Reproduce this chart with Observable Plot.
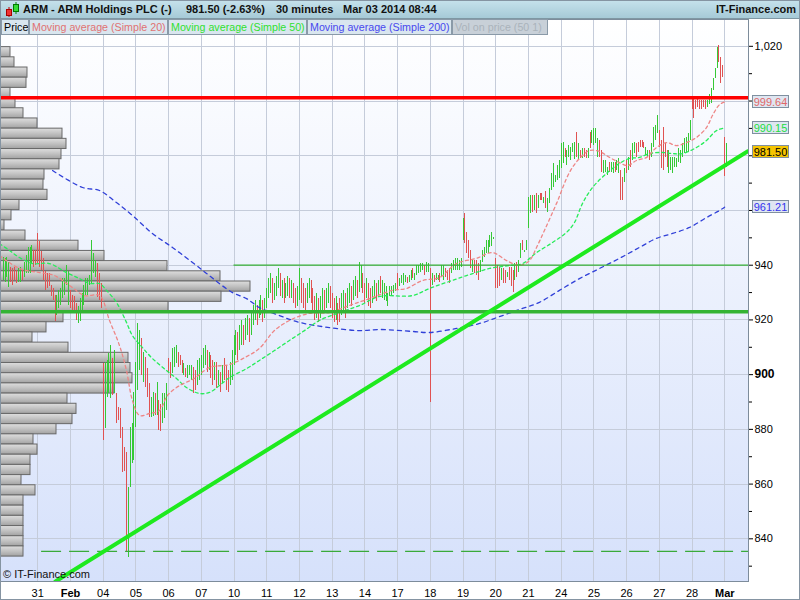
<!DOCTYPE html>
<html>
<head>
<meta charset="utf-8">
<script src="https://cdn.jsdelivr.net/npm/d3@7"></script>
<script src="https://cdn.jsdelivr.net/npm/@observablehq/plot@0.6"></script>
<style>
  html,body{margin:0;padding:0;background:#fff;}
  #wrap{position:relative;width:800px;height:600px;overflow:hidden;font-family:Arial,"Liberation Sans",sans-serif;}
  #chart{position:absolute;left:0;top:0;}
  #hdr{position:absolute;left:0;top:0;width:800px;height:19px;background:linear-gradient(#c6e2ec,#a6cad7);border-bottom:1px solid #7f97a3;box-sizing:border-box;font-weight:bold;font-size:11px;color:#111;}
  .h{position:absolute;top:3px;white-space:nowrap;}
  .lg{position:absolute;top:19px;height:16px;line-height:15px;font-size:10.7px;padding-left:2px;background:#d9e6ef;border:1px solid #8a9aa8;white-space:nowrap;box-sizing:border-box;overflow:hidden;}
  .vb{position:absolute;left:752px;width:37px;height:13px;line-height:12px;font-size:11px;text-align:center;border:1px solid #8090a0;background:#dfe7f2;box-sizing:border-box;}
  #copy{position:absolute;left:3px;top:568px;font-size:11px;color:#111;}
  #border{position:absolute;left:0;top:0;width:800px;height:600px;border:1px solid #8594a2;box-sizing:border-box;pointer-events:none;}
</style>
</head>
<body>
<div id="wrap">
  <div id="chart"></div>
  <div id="hdr">
    <svg style="position:absolute;left:3px;top:1px" width="18" height="17">
      <line x1="6" y1="6" x2="6" y2="16" stroke="#b00" />
      <rect x="3.5" y="8.5" width="5" height="6" fill="#e33" stroke="#a00"/>
      <line x1="13" y1="1" x2="13" y2="13" stroke="#080" />
      <rect x="10.5" y="3.5" width="5" height="7" fill="#3d3" stroke="#070"/>
    </svg>
    <span class="h" style="left:23px">ARM - ARM Holdings PLC (-)</span>
    <span class="h" style="left:186px">981.50 (-2.63%)</span>
    <span class="h" style="left:276px">30 minutes</span>
    <span class="h" style="left:343px">Mar 03 2014 08:44</span>
    <span class="h" style="right:4px">IT-Finance.com</span>
  </div>
  <div class="lg" style="left:1px;width:28px;color:#000;">Price</div>
  <div class="lg" style="left:29px;width:139px;color:#e07272;">Moving average (Simple 20)</div>
  <div class="lg" style="left:168px;width:139px;color:#30e030;">Moving average (Simple 50)</div>
  <div class="lg" style="left:307px;width:145px;color:#4848ee;">Moving average (Simple 200)</div>
  <div class="lg" style="left:452px;width:96px;color:#aab3bb;background:#c8d0d8;">Vol on price (50 1)</div>
  <div id="copy">© IT-Finance.com</div>
  <div id="vboxes"></div>
  <div id="border"></div>
</div>
<script>
// ---------- DATA ----------
const dayLabels = ["31","Feb","04","05","06","07","10","11","12","13","14","17","18","19","20","21","24","25","26","27","28","Mar"];
const boldLabels = ["Feb","Mar"];
const firstDayBar = 18;      // first bar of Jan 31
const barsPerDay = 17;       // 30-minute bars per session

// 30-minute bars: highs, lows, direction (G up / R down), one line per session
const highs = [
 942.8,942.4,942.8,941.0,939.2,938.8,939.2,938.1,938.8,939.2,938.1,941.0,943.5,946.5,946.5,947.2,945.4,945.4,
 951.6,948.7,945.1,942.5,937.8,937.0,937.0,932.6,931.5,928.9,928.9,930.8,931.5,935.1,935.1,939.9,937.8,
 930.8,928.9,928.6,926.0,924.9,927.8,929.7,932.6,935.1,935.1,936.2,949.0,944.3,941.7,940.6,937.0,933.3,
 904.1,904.4,905.2,907.7,910.6,905.9,908.8,893.1,888.0,887.7,880.7,873.4,871.5,858.7,880.7,882.1,893.5,
 904.4,918.7,916.1,913.2,908.0,906.3,902.2,896.8,891.6,893.5,893.1,897.1,890.6,889.1,893.1,893.1,896.8,
 905.9,904.4,909.5,909.9,910.6,908.1,907.0,905.2,904.1,902.2,903.3,903.3,903.3,902.5,901.4,905.2,905.9,
 907.0,909.5,910.6,908.8,908.1,907.0,905.2,904.4,904.4,901.4,900.7,903.3,905.9,903.3,901.4,904.4,908.8,
 914.3,916.1,915.4,918.0,919.8,918.0,920.5,921.6,920.5,922.7,925.3,927.1,925.3,927.1,928.9,927.1,927.8,
 931.5,935.1,937.0,935.1,933.3,935.9,938.8,937.0,934.4,935.1,933.3,935.9,935.1,934.4,933.3,931.5,932.2,
 938.8,935.1,933.3,931.5,933.3,935.1,934.4,931.5,928.6,929.7,927.8,928.6,931.5,930.8,931.5,933.3,932.2,
 929.7,927.8,928.6,926.0,927.8,929.7,930.8,929.7,931.5,933.3,932.2,934.4,935.9,934.4,941.0,940.0,937.0,
 933.3,935.1,933.3,931.5,932.2,934.4,933.3,934.4,935.9,934.4,933.3,932.2,929.7,932.2,932.2,932.6,933.3,
 937.0,935.1,936.2,937.0,936.2,935.5,936.2,938.1,938.8,937.0,939.9,939.9,940.6,940.6,939.9,941.0,940.6,
 938.7,937.0,936.2,937.0,936.2,937.0,939.9,939.9,938.8,938.1,938.8,940.6,941.7,942.5,942.5,941.7,942.5,
 957.0,958.9,951.9,949.0,945.4,941.7,941.7,941.7,940.6,941.7,945.4,946.5,949.0,949.0,950.9,951.9,950.1,
 942.5,939.9,939.2,938.8,938.8,938.1,937.4,939.2,939.2,938.1,940.6,941.0,941.7,947.9,949.0,945.4,949.0,
 964.7,965.4,965.4,965.4,966.2,965.4,966.2,966.2,964.7,967.0,964.4,968.1,973.6,977.3,972.9,976.5,978.3,
 984.4,984.8,982.6,981.9,983.7,983.0,984.4,984.8,988.5,984.4,981.9,982.6,982.6,981.9,982.6,988.5,989.2,
 989.9,989.9,986.3,985.6,981.9,978.3,978.3,975.7,977.6,977.6,977.6,977.6,978.3,979.0,974.6,972.1,975.4,
 978.3,979.4,981.9,984.4,984.8,984.4,984.8,985.6,985.6,984.8,983.0,981.9,981.9,984.4,990.3,991.0,994.7,
 989.2,985.6,990.3,984.4,981.9,981.9,979.4,979.4,979.4,979.0,982.6,981.9,984.4,986.3,986.7,988.1,992.9,
 1000.5,1000.5,1000.1,1000.5,1000.1,1000.1,1000.1,1000.1,1000.1,1002.3,1004.5,1008.2,1011.9,1019.6,1020.3,1015.9,1013.0,
 986.7,984.5
];
const lows = [
 934.4,933.7,935.5,931.9,933.7,932.6,934.4,933.3,933.7,933.7,934.4,935.5,937.0,937.0,937.0,940.6,939.2,939.9,
 940.6,939.2,938.1,934.4,930.8,931.5,932.2,928.6,927.1,919.4,921.6,924.2,925.3,927.8,928.9,932.6,925.3,
 924.2,923.1,923.1,919.8,918.7,919.4,923.4,925.3,928.9,928.9,932.6,933.3,937.0,935.5,928.2,927.1,924.2,
 875.9,880.3,891.6,893.1,891.3,892.4,893.1,882.1,883.2,876.6,864.2,864.5,835.0,833.3,858.7,867.5,868.6,
 880.7,894.2,901.5,899.7,897.1,895.3,891.6,884.3,884.3,884.7,885.1,885.1,879.5,879.1,882.1,884.0,886.9,
 900.4,898.6,900.4,902.5,904.1,902.5,903.3,900.4,899.7,899.0,898.6,899.7,897.8,893.1,894.2,896.0,897.9,
 899.7,902.2,903.3,900.8,901.5,898.6,896.0,897.9,895.0,896.0,893.5,896.8,897.9,894.2,893.5,896.0,897.9,
 903.3,907.0,905.2,908.8,910.6,910.6,912.5,914.3,911.7,914.3,918.0,919.8,918.0,920.5,921.6,919.0,920.5,
 924.2,927.8,929.7,926.0,927.1,928.6,931.5,928.6,927.8,926.0,927.8,928.6,927.8,927.8,926.0,924.2,925.0,
 927.1,926.0,924.2,923.4,926.0,927.8,926.0,922.3,919.8,920.5,919.0,920.5,923.4,922.3,924.2,926.0,924.2,
 920.5,919.0,919.8,918.0,919.0,921.6,923.4,920.5,924.2,926.0,925.0,927.1,928.6,927.8,930.0,931.5,929.7,
 926.0,927.8,925.0,924.2,926.0,927.8,926.7,928.6,929.7,927.8,927.1,926.7,925.0,928.6,928.9,929.7,930.4,
 930.8,932.2,933.3,932.6,933.7,933.3,933.7,934.4,935.1,934.4,936.2,937.0,937.4,938.1,936.2,937.4,937.4,
 889.8,932.6,933.7,934.4,934.4,933.7,935.5,934.4,935.5,934.4,933.3,937.0,938.1,938.1,938.1,938.1,939.2,
 949.0,947.9,944.3,942.5,938.8,937.4,937.0,936.2,934.4,937.4,941.0,942.8,944.3,944.3,946.5,946.9,949.4,
 931.5,931.5,932.2,934.4,933.3,933.3,935.5,934.4,932.2,930.0,934.4,935.5,937.4,942.5,945.4,944.7,945.4,
 953.4,958.9,959.3,960.0,958.9,960.7,963.6,963.6,962.5,960.8,959.3,962.6,967.3,968.3,970.4,971.0,971.7,
 975.3,977.3,979.3,976.5,979.3,978.3,981.2,978.7,979.3,978.3,979.0,979.0,979.3,979.0,979.0,982.6,984.4,
 983.7,984.4,979.3,979.3,973.9,973.6,973.9,972.8,973.9,973.9,973.6,973.9,974.6,973.6,963.6,963.6,970.3,
 973.6,974.6,975.7,978.3,980.8,979.3,981.2,983.0,983.0,982.6,980.1,979.3,978.3,979.3,983.0,985.6,988.1,
 983.0,975.3,974.6,979.3,975.7,973.6,974.6,973.6,975.7,975.7,977.5,977.2,979.3,980.8,980.8,981.2,985.6,
 996.8,993.8,996.8,997.5,996.8,996.8,997.5,996.8,997.5,998.6,999.0,1003.8,1008.2,1011.9,1014.1,1006.4,1008.6,
 972.4,975.7
];
const dirs = (
 "GGGGRRRRGGRGGGGGRR" + "RRRRRRRRRRGGGGGGG" + "RRRRGGGGGGGGGGRRR" + "RGGGGRGRRRRRRGGGG" +
 "GGGRGRRRGGRGRRGGG" + "RRGGGRRRGRGGGRRGG" + "GGGRGRRGRGRGRRRGG" + "GGRGGRGGRGGGRGGRG" +
 "GGGRGGGRGRGGRGRRG" + "GRRRGGRRRGRGGRGGR" + "RRGRRGGRGGRGGRGGR" + "RGRRGGRGRGGGGGGGG" +
 "RGGGGRGGRGGGGGRGG" + "RGRGGRGGRRRGGGGGG" + "GRRRRGRRRGGGGGGGG" + "RRRGRRGRRRGRGGRGG" +
 "GGRGRGRRGRGGGGGGG" + "GGRGGGGGRGRGRRGRG" + "GGGRRGGGRGGRGGRRG" + "RGRGGRRRRRGGRGGGG" +
 "RRRRRGGGGGGGGGGGG" + "RRRRRRRRGGGGGGRRR" + "RG").split("");

// Moving averages: bar position and price
const ma20I = [-1.9,8.5,18.9,26.7,34.5,42.3,50.1,55.3,60.5,64.1,67.2,70.9,76.0,81.3,85.4,91.7,99.4,107.2,117.6,126.5,133.2,141.0,148.8,159.2,169.6,180.0,190.4,202.3,209.6,217.9,226.8,235.6,246.0,254.3,261.6,268.3,273.5,277.2,281.3,287.6,294.3,299.5,304.7,309.9,315.1,320.3,324.5,329.2,334.4,339.5,344.7,349.9,355.1,360.3,365.5,368.6,372.3,374.9];
const ma20V = [943.5,938.8,937.3,936.2,932.6,928.9,928.9,919.8,910.6,901.5,890.6,885.1,885.8,886.9,892.4,896.0,898.6,902.6,903.7,906.6,909.6,916.1,919.8,922.4,922.7,925.3,927.8,930.8,931.5,934.4,935.5,940.6,942.5,944.6,941.7,939.9,941.7,946.5,952.7,962.6,973.9,979.0,981.9,981.6,979.4,977.5,976.4,978.3,979.4,983.0,984.8,983.7,984.8,986.7,990.3,994.7,998.7,999.64];
const ma50I = [-1.9,3.3,8.5,15.3,24.1,32.9,39.7,44.9,50.1,53.7,58.9,64.1,67.2,72.4,77.6,84.9,90.1,95.3,102.1,107.2,112.4,117.6,126.5,133.2,141.0,148.8,156.6,164.4,174.8,185.3,195.7,212.7,221.6,230.4,240.8,252.8,263.1,269.9,277.2,285.5,292.8,296.9,301.1,306.3,313.5,320.3,325.5,330.7,335.9,342.7,347.9,353.1,360.3,365.5,370.7,374.9];
const ma50V = [947.9,945.4,942.8,940.6,940.6,937.3,935.1,933.3,933.3,930.8,926.4,919.1,914.3,909.9,905.9,901.5,898.6,895.3,893.1,893.5,896.0,898.9,902.2,905.2,908.8,912.5,916.1,919.8,922.7,925.3,928.6,928.9,931.5,933.7,936.2,938.8,939.9,940.6,944.6,948.3,952.0,955.6,962.6,968.4,973.5,977.2,979.0,979.4,980.8,981.2,980.8,980.8,983.0,985.6,989.2,990.15];
const ma200I = [25.7,41.3,50.1,58.9,67.2,77.6,88.0,98.4,105.7,112.4,119.2,126.5,133.2,143.6,154.0,169.6,185.3,195.7,212.7,221.6,235.6,247.6,259.5,269.9,278.7,289.1,299.5,309.9,320.3,330.7,339.5,347.9,356.7,365.5,372.3,374.9];
const ma200V = [974.6,968.4,967.3,962.9,958.2,951.6,946.5,941.0,937.0,933.3,930.0,927.8,924.5,921.6,919.1,917.2,916.1,916.5,915.8,915.4,916.9,918.7,921.6,924.2,926.4,930.8,935.1,938.8,942.5,946.5,949.8,951.6,953.8,957.4,960.0,961.21];

// Volume on price (50 price bins, top to bottom), relative volume
const volTop = 1019.7, volBottom = 833.5;
const volWidths = [10,14,27,26,10,15,23,37,62,66,61,59,44,43,47,19,11,4,25,78,104,167,220,250,221,168,63,46,32,68,128,130,132,114,67,76,72,56,33,37,30,30,21,35,23,23,23,23,23,23];

// Drawn reference lines
const resistance = 1001.2;
const support = 923.0;
const level940 = 940;
const level940StartDay = 6;   // starts at Feb 10 session
const lowLevel = 835.4;
const lowLevelStartBar = 20;
const trendI = [27.2, 386.8];
const trendV = [824.4, 981.6];

// Price-axis tick labels (those under the value boxes are not shown)
const axisTicks = [840, 860, 880, 920, 940, 1020];
const boldTicks = [900];
const hiddenTicks = [960, 980, 1000];

// Last values shown on the price axis
const lastLabels = [
  {v: 999.64, t: "999.64", kind: "ma20"},
  {v: 990.15, t: "990.15", kind: "ma50"},
  {v: 981.50, t: "981.50", kind: "price"},
  {v: 961.21, t: "961.21", kind: "ma200"}
];

// ---------- CHART ----------
const W = 800, H = 600, mTop = 19, mBottom = 19, mLeft = 0, mRight = 52;
const plotW = W - mLeft - mRight;
const pxPerBar = 1.9244, firstBarPx = 2.6;
const xMin = -firstBarPx / pxPerBar, xMax = (plotW - firstBarPx) / pxPerBar;
const yMin = 824.4, yMax = 1029.8;
const unitsPerPx = (xMax - xMin) / plotW;

const bars = highs.map((h, i) => ({i, h, l: lows[i], d: dirs[i]}));
const upBars = bars.filter(b => b.d === "G");
const dnBars = bars.filter(b => b.d === "R");
const days = dayLabels.map((t, k) => ({i: firstDayBar + k * barsPerDay, t}));
const ma20 = ma20I.map((i, k) => ({i, v: ma20V[k]}));
const ma50 = ma50I.map((i, k) => ({i, v: ma50V[k]}));
const ma200 = ma200I.map((i, k) => ({i, v: ma200V[k]}));
const binH = (volTop - volBottom) / volWidths.length;
const vol = volWidths.map((w, k) => ({w, top: volTop - k * binH, bot: volTop - (k + 1) * binH}));
const trend = trendI.map((i, k) => ({i, v: trendV[k]}));
const gridVals = d3.range(840, 1021, 20);
const minorVals = d3.range(830, 1030, 20);

const bgMark = (index, scales, values, dims) => {
  const g = d3.create("svg:g");
  const defs = g.append("defs");
  const bg = defs.append("linearGradient").attr("id", "bgGrad").attr("x1", 0).attr("y1", 0).attr("x2", 0).attr("y2", 1);
  bg.append("stop").attr("offset", 0).attr("stop-color", "#ffffff");
  bg.append("stop").attr("offset", 1).attr("stop-color", "#d6e1fb");
  const vg = defs.append("linearGradient").attr("id", "volGrad").attr("x1", 0).attr("y1", 0).attr("x2", 0).attr("y2", 1);
  vg.append("stop").attr("offset", 0).attr("stop-color", "#dedede");
  vg.append("stop").attr("offset", 0.5).attr("stop-color", "#c2c2c2");
  vg.append("stop").attr("offset", 1).attr("stop-color", "#a2a2a2");
  g.append("rect").attr("x", dims.marginLeft).attr("y", dims.marginTop)
    .attr("width", dims.width - dims.marginLeft - dims.marginRight)
    .attr("height", dims.height - dims.marginTop - dims.marginBottom)
    .attr("fill", "url(#bgGrad)");
  return g.node();
};

const GRID = "#c5ccda", GREEN = "#36c936", RED = "#e05252";

const plot = Plot.plot({
  width: W, height: H,
  marginTop: mTop, marginBottom: mBottom, marginLeft: mLeft, marginRight: mRight,
  x: {type: "linear", domain: [xMin, xMax], axis: null},
  y: {type: "linear", domain: [yMin, yMax], axis: null},
  style: {background: "white", fontFamily: "Arial, 'Liberation Sans', sans-serif", color: "#000", overflow: "visible"},
  marks: [
    bgMark,
    Plot.ruleY(gridVals, {stroke: GRID, strokeWidth: 1, shapeRendering: "crispEdges"}),
    Plot.ruleX(days, {x: "i", stroke: GRID, strokeWidth: 1, shapeRendering: "crispEdges"}),
    Plot.rect(vol, {x1: () => xMin, x2: d => xMin + d.w * unitsPerPx, y1: "bot", y2: "top",
      fill: "url(#volGrad)", stroke: "#686868", strokeWidth: 1}),
    Plot.ruleX(upBars, {x: "i", y1: "l", y2: "h", stroke: GREEN, strokeWidth: 1, shapeRendering: "crispEdges"}),
    Plot.ruleX(dnBars, {x: "i", y1: "l", y2: "h", stroke: RED, strokeWidth: 1, shapeRendering: "crispEdges"}),
    Plot.line(ma200, {x: "i", y: "v", stroke: "#3040d8", strokeWidth: 1.3, strokeDasharray: "4,4", curve: "catmull-rom", clip: true}),
    Plot.line(ma50, {x: "i", y: "v", stroke: "#28ec5a", strokeWidth: 1.3, strokeDasharray: "3,3", curve: "catmull-rom", clip: true}),
    Plot.line(ma20, {x: "i", y: "v", stroke: "#ee8686", strokeWidth: 1.3, strokeDasharray: "3,3", curve: "catmull-rom", clip: true}),
    Plot.ruleY([level940], {x1: () => days[level940StartDay].i, x2: () => xMax, stroke: "#36b036", strokeWidth: 1.3}),
    Plot.ruleY([lowLevel], {x1: () => lowLevelStartBar, x2: () => xMax, stroke: "#3aaa3a", strokeWidth: 1.2, strokeDasharray: "20,8"}),
    Plot.ruleY([support], {stroke: "#34b434", strokeWidth: 3.5}),
    Plot.ruleY([resistance], {stroke: "#ff0000", strokeWidth: 3.5}),
    Plot.line(trend, {x: "i", y: "v", stroke: "#1eea1e", strokeWidth: 4, clip: true}),
    Plot.frame({stroke: "#7d8c9b"}),
    Plot.axisY(axisTicks, {anchor: "right", tickSize: 4, tickPadding: 2, fontSize: 11,
      tickFormat: d => d3.format(",")(d)}),
    Plot.axisY(boldTicks.concat(hiddenTicks), {anchor: "right", tickSize: 4, tickFormat: () => ""}),
    Plot.axisY(minorVals, {anchor: "right", tickSize: 3, tickFormat: () => ""}),
    Plot.text(boldTicks, {x: () => xMax, y: d => d, dx: 6, text: d => String(d), textAnchor: "start", fontWeight: "bold", fontSize: 12}),
    Plot.text(days.filter(d => !boldLabels.includes(d.t)), {x: "i", y: () => yMin, dy: 12, text: "t", fontSize: 11}),
    Plot.text(days.filter(d => boldLabels.includes(d.t)), {x: "i", y: () => yMin, dy: 12, text: "t", fontSize: 11, fontWeight: "bold"})
  ]
});
document.getElementById("chart").appendChild(plot);

// value boxes on the price axis, placed with the plot's own y scale
const ys = plot.scale("y");
const boxStyle = {
  ma20: {color: "#e06868", bg: "#dfe6f1"},
  ma50: {color: "#22dd44", bg: "#dfe6f1"},
  price: {color: "#000", bg: "#f5c400"},
  ma200: {color: "#3333ee", bg: "#dfe6f1"}
};
const vb = document.getElementById("vboxes");
lastLabels.forEach(d => {
  const el = document.createElement("div");
  el.className = "vb";
  const s = boxStyle[d.kind];
  el.style.color = s.color;
  el.style.background = s.bg;
  el.style.top = (ys.apply(d.v) - 6.5) + "px";
  el.textContent = d.t;
  vb.appendChild(el);
});
</script>
</body>
</html>
